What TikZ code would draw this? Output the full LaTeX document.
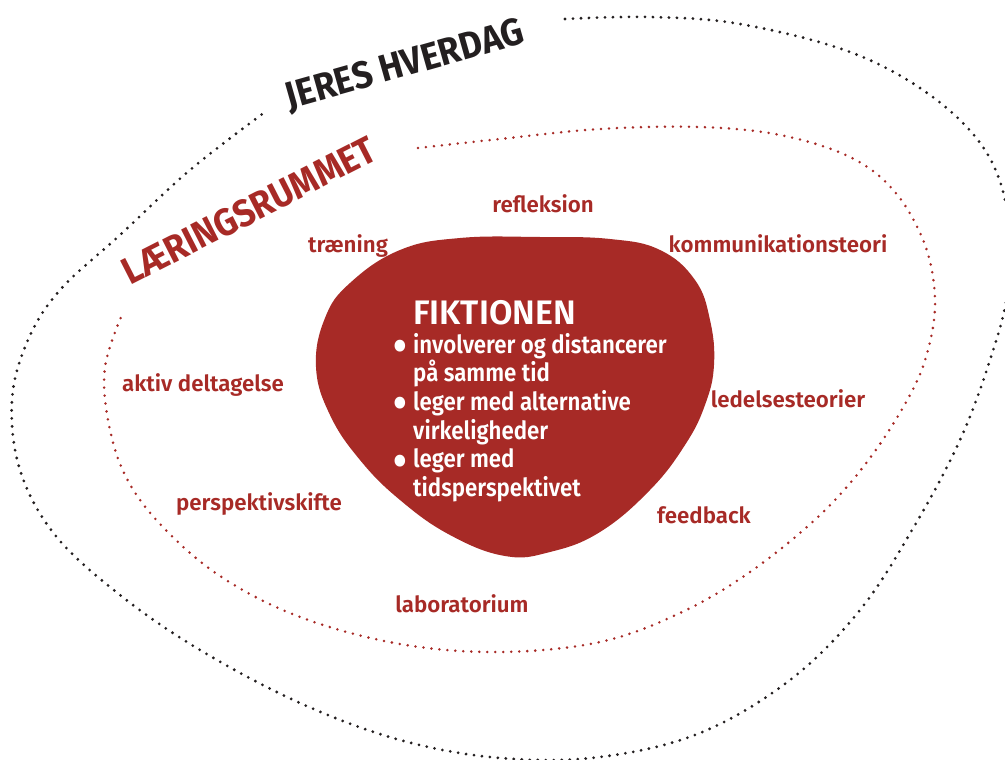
\documentclass[tikz,border=0pt]{standalone}
\usepackage{fontspec}
\setmainfont{Fira Sans}
\newfontfamily\rumfont{Fira Sans SemiBold}
\newfontfamily\punktfont{Fira Sans SemiBold}[FakeStretch=0.89]
\newfontfamily\titelfont{Fira Sans Bold}[FakeStretch=0.92]
\newfontfamily\rumtitelfont{Fira Sans Bold}[FakeStretch=0.915]
\definecolor{fiktred}{RGB}{167,42,38}
\definecolor{hverdag}{RGB}{35,31,32}
\newcommand\punkt{\llap{\raisebox{-8.5pt}{\scalebox{1.8}{\textbullet}}\hspace{6pt}}}
\tikzset{
  rumlabel/.style={font=\rumfont\fontsize{22.3}{22}\selectfont, text=fiktred, inner sep=0pt, anchor=base},
  titel/.style={font=\titelfont\fontsize{38}{38}\selectfont, inner sep=0pt, anchor=base},
  punkttekst/.style={font=\punktfont\fontsize{25}{25}\selectfont, text=white, inner sep=0pt, anchor=base west},
  prikker/.style={line width=3.1pt, line cap=round, dash pattern=on 0pt off 8pt},
}

\begin{document}
\begin{tikzpicture}[x=1pt,y=-1pt]
\useasboundingbox (0,0) rectangle (1005,760);
\clip (0,0) rectangle (1005,760);
% jeres hverdag, outer ring
\draw[prikker, hverdag] plot[smooth, tension=0.6] coordinates {
  (565,19) (650,17) (740,24) (850,52) (930,95) (985,150) (1008,215)
  (1008,290) (990,360) (960,440) (915,525) (860,610) (790,680) (700,733)
  (600,757) (500,758) (400,740) (300,703) (200,650) (120,595) (55,535)
  (20,470) (12,400) (28,340) (60,290) (120,235) (190,170) (265,112)};
% laeringsrummet, inner ring
\draw[prikker, fiktred, line width=2.8pt] plot[smooth, tension=0.6] coordinates {
  (418,148) (500,139) (600,129) (700,127) (780,135) (850,157) (895,192)
  (925,245) (935,300) (928,350) (910,395) (870,458) (820,515) (750,572)
  (680,613) (600,642) (500,652) (400,644) (300,617) (220,576) (160,524)
  (125,475) (108,420) (105,367) (121,317)};
% fiktionen
\fill[fiktred] plot[smooth cycle, tension=0.7] coordinates {
  (540,237) (610,239) (660,250) (695,280) (710,320) (714,365) (705,405)
  (685,445) (650,490) (600,532) (550,552) (505,556) (450,535) (400,500)
  (360,460) (330,415) (316,367) (325,318) (350,283) (400,250) (460,238)};

\node[titel, text=hverdag, rotate=15.8] (hverdag) at (408,76) {JERES HVERDAG};
\node[titel, font=\rumtitelfont\fontsize{38}{38}\selectfont, text=fiktred, rotate=27] (rummet) at (255,222) {LÆRINGSRUMMET};

\node[punkttekst, font=\rumfont\fontsize{34}{34}\selectfont] (fikt) at (413,324) {FIKTIONEN};
\foreach \nr/\linje in {0/\punkt involverer og distancerer, 1/på samme tid,
    2/\punkt leger med alternative, 3/virkeligheder, 4/\punkt leger med, 5/tidsperspektivet}
  \node[punkttekst] (linje\nr) at (413,353+28.7*\nr) {\linje};

\node[rumlabel] (refl)   at (543,212) {refleksion};
\node[rumlabel] (traen)  at (348,252) {træning};
\node[rumlabel] (komm)   at (778,252) {kommunikationsteori};
\node[rumlabel] (aktiv)  at (203,391) {aktiv deltagelse};
\node[rumlabel] (ledel)  at (788,407) {ledelsesteorier};
\node[rumlabel] (persp)  at (259,510) {perspektivskifte};
\node[rumlabel] (feedb)  at (704,523) {feedback};
\node[rumlabel] (labor)  at (462,612) {laboratorium};
\end{tikzpicture}
\end{document}
